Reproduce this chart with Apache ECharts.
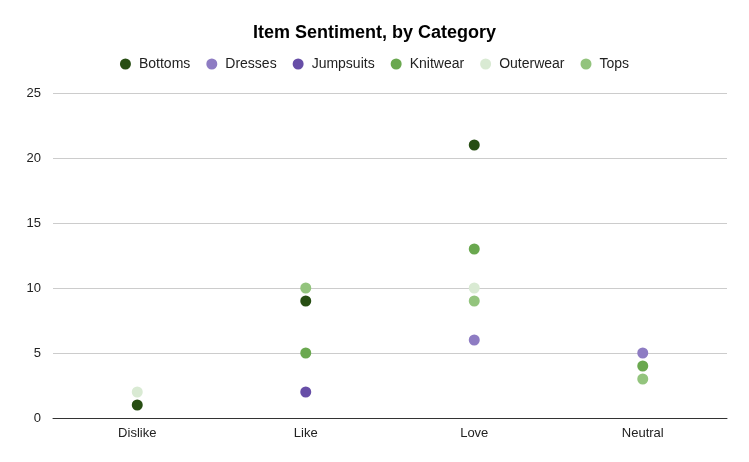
<!DOCTYPE html>
<html><head><meta charset="utf-8">
<script src="https://cdn.jsdelivr.net/npm/echarts@6/dist/echarts.min.js"></script>
<style>html,body{margin:0;padding:0;background:#fff}#c{width:749px;height:462px}</style>
</head><body><div id="c"></div>
<script>
const categories = ['Dislike', 'Like', 'Love', 'Neutral'];
const seriesNames = ['Bottoms', 'Dresses', 'Jumpsuits', 'Knitwear', 'Outerwear', 'Tops'];
const bottoms = [1, 9, 21, null];
const dresses = [null, null, 6, 5];
const jumpsuits = [null, 2, null, null];
const knitwear = [null, 5, 13, 4];
const outerwear = [2, null, 10, null];
const tops = [null, 10, 9, 3];
const colors = ['#274e13', '#8e7cc3', '#674ea7', '#6aa84f', '#d9ead3', '#93c47d'];
const values = [bottoms, dresses, jumpsuits, knitwear, outerwear, tops];

const chart = echarts.init(document.getElementById('c'));
chart.setOption({
  animation: false,
  title: { text: 'Item Sentiment, by Category', left: 'center', top: 19,
    textStyle: { fontFamily: 'Liberation Sans, Arial', fontSize: 18, fontWeight: 'bold', color: '#000' } },
  legend: { top: 52, left: 'center', itemWidth: 11, itemHeight: 11, itemGap: 16,
    icon: 'circle', textStyle: { fontFamily: 'Liberation Sans, Arial', fontSize: 14, color: '#222', padding: [0, 0, 0, 3] },
    data: seriesNames },
  grid: { left: 53, right: 22, top: 93, bottom: 44 },
  xAxis: { type: 'category', data: categories, boundaryGap: true,
    axisLine: { lineStyle: { color: '#333', width: 1 } }, axisTick: { show: false },
    axisLabel: { fontFamily: 'Liberation Sans, Arial', fontSize: 13, color: '#222', margin: 9 } },
  yAxis: { type: 'value', min: 0, max: 25, interval: 5,
    axisLine: { show: false }, axisTick: { show: false },
    splitLine: { lineStyle: { color: '#ccc' } },
    axisLabel: { fontFamily: 'Liberation Sans, Arial', fontSize: 13, color: '#222', margin: 12 } },
  series: seriesNames.map((n, i) => ({
    name: n, type: 'scatter', data: values[i], symbolSize: 11,
    itemStyle: { color: colors[i], opacity: 1 }
  }))
});
</script></body></html>
